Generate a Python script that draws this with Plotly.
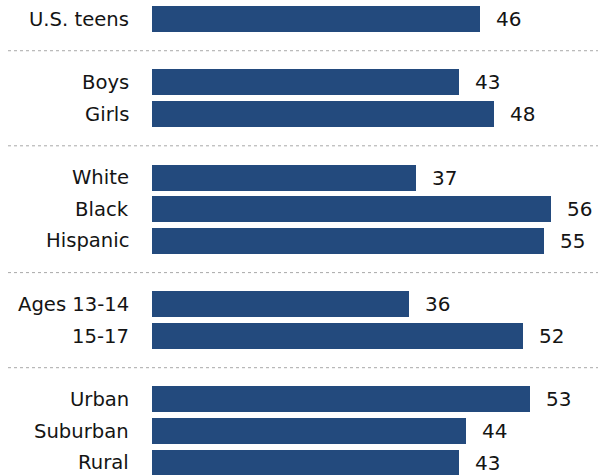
import plotly.graph_objects as go

categories = ["U.S. teens", "Boys", "Girls", "White", "Black", "Hispanic",
              "Ages 13-14", "15-17", "Urban", "Suburban", "Rural"]
values = [46, 43, 48, 37, 56, 55, 36, 52, 53, 44, 43]
groups = [0, 1, 1, 2, 2, 2, 3, 3, 4, 4, 4]

# row positions: one row per category, an extra empty row between groups
ypos = []
pos = 0
prev = groups[0]
for g in groups:
    if g != prev:
        pos += 1
        prev = g
    ypos.append(pos)
    pos += 1

separators = []
for i in range(1, len(groups)):
    if groups[i] != groups[i - 1]:
        separators.append((ypos[i] + ypos[i - 1]) / 2)

W, H = 598, 475
L = 152
BAR = "#234a7d"
FONT = "DejaVu Sans"

fig = go.Figure()
fig.add_trace(go.Bar(
    x=values, y=ypos, orientation="h",
    marker=dict(color=BAR, line=dict(width=0)),
    width=0.82, hoverinfo="skip",
))

annotations = []
for c, v, y in zip(categories, values, ypos):
    annotations.append(dict(
        x=(131 - L) / (W - L), xref="paper", y=y, yref="y",
        text=c, showarrow=False, xanchor="right", yanchor="middle",
        font=dict(family=FONT, size=19.6, color="#141414"),
    ))
    annotations.append(dict(
        x=v, xref="x", y=y, yref="y", xshift=14,
        text=str(v), showarrow=False, xanchor="left", yanchor="middle",
        font=dict(family=FONT, size=20, color="#141414"),
    ))

shapes = []
for s in separators:
    shapes.append(dict(
        type="line", xref="paper", yref="y",
        x0=(8 - L) / (W - L), x1=1, y0=s, y1=s,
        line=dict(color="#a8a8a8", width=1, dash="dot"),
    ))

fig.update_layout(
    width=W, height=H,
    margin=dict(l=L, r=0, t=0, b=0),
    paper_bgcolor="white", plot_bgcolor="white",
    showlegend=False,
    xaxis=dict(range=[0, (W - L) / 7.13], visible=False, fixedrange=True),
    yaxis=dict(range=[ypos[-1] + 0.385, -0.6], visible=False, fixedrange=True),
    annotations=annotations, shapes=shapes,
    bargap=0,
)

fig.write_html("out.html")
